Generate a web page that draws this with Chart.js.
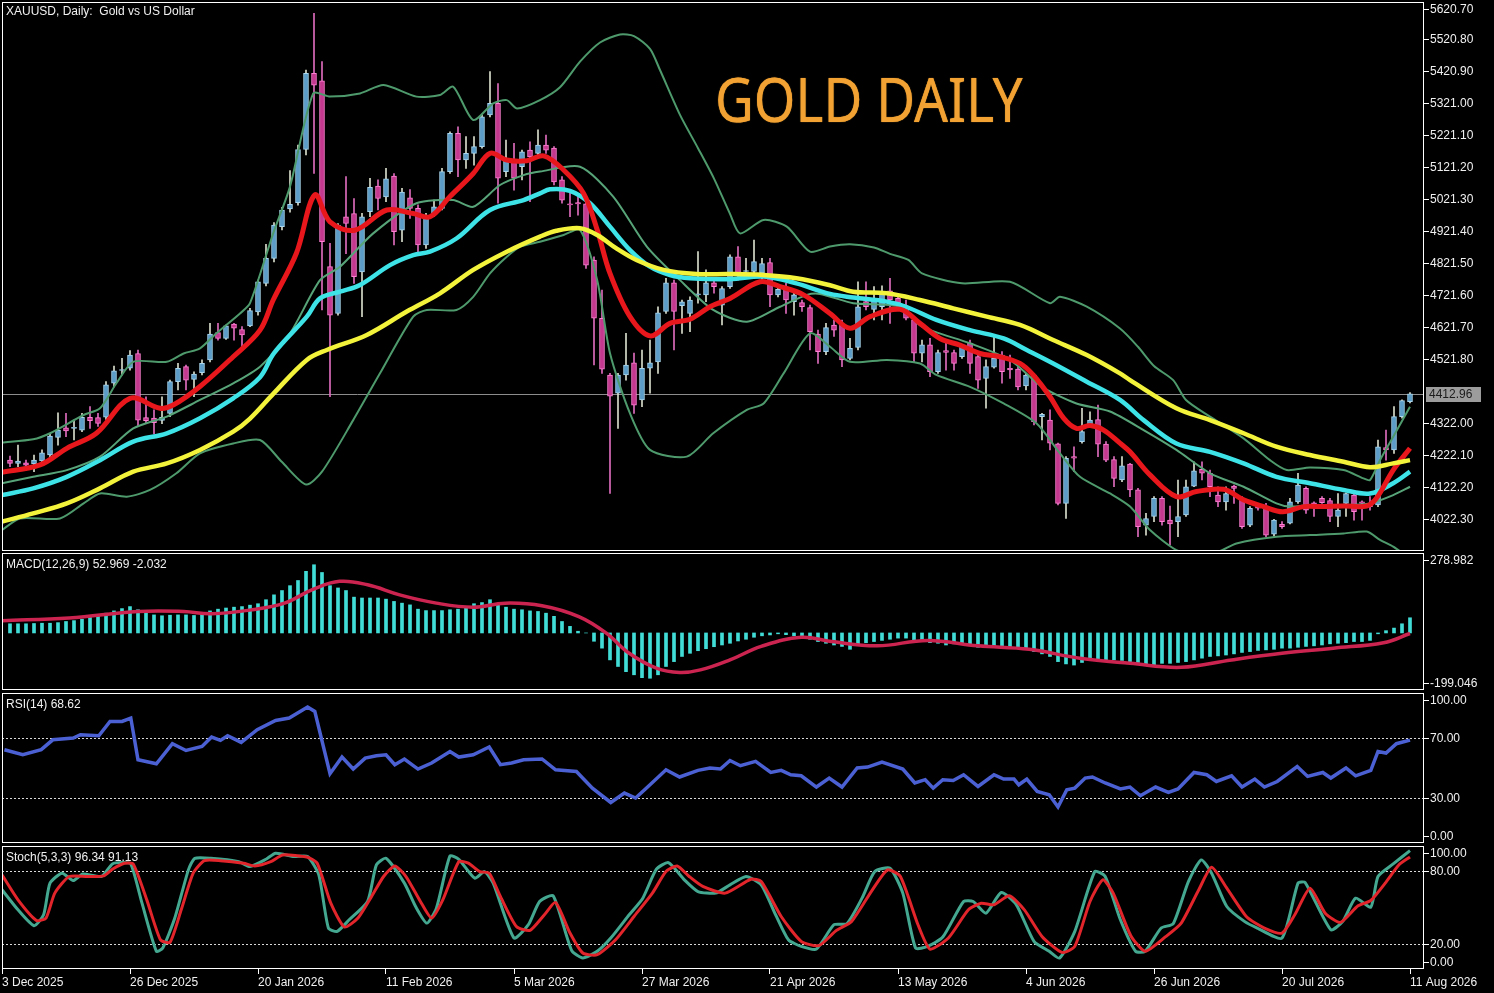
<!DOCTYPE html>
<html>
<head>
<meta charset="utf-8">
<script src="https://cdn.jsdelivr.net/npm/chart.js@4.4.1/dist/chart.umd.min.js"></script>
<style>
html, body { margin: 0; padding: 0; background: #000; overflow: hidden; }
#wrap { position: relative; width: 1494px; height: 993px; background: #000; }
canvas { position: absolute; left: 0; }
.lbl { position: absolute; left: 6px; color: #f0f0f0; font: 12px "Liberation Sans", Arial, sans-serif; white-space: pre; line-height: 14px; }
#gold { position: absolute; left: 715px; top: 67px; color: #f2a232; font: 62px/62px "Noto Sans", sans-serif; transform: scaleX(0.86); transform-origin: 0 0; white-space: pre; text-shadow: 0 0 1px #f2a232; }
</style>
</head>
<body>
<div id="wrap">
  <canvas id="cMain" width="1494" height="552" style="top:0"></canvas>
  <canvas id="cMacd" width="1494" height="140" style="top:552px"></canvas>
  <canvas id="cRsi" width="1494" height="152" style="top:692px"></canvas>
  <canvas id="cStoch" width="1494" height="149" style="top:844px"></canvas>
  <div class="lbl" style="top:4px">XAUUSD, Daily:  Gold vs US Dollar</div>
  <div class="lbl" style="top:557px">MACD(12,26,9) 52.969 -2.032</div>
  <div class="lbl" style="top:697px">RSI(14) 68.62</div>
  <div class="lbl" style="top:850px">Stoch(5,3,3) 96.34 91.13</div>
  <div id="gold">GOLD DAILY</div>
</div>
<script>
// ---- daily candles, bar 0 = 4 Dec 2025 ... bar 175 = 11 Aug 2026
const openV = [
  4206, 4196, 4198, 4194, 4204, 4222, 4277, 4307, 4305, 4300,
  4340, 4339, 4340, 4446, 4486, 4493, 4539, 4339, 4337, 4330,
  4352, 4451, 4498, 4458, 4479, 4519, 4604, 4586, 4631, 4614,
  4625, 4669, 4758, 4836, 4935, 4990, 5010, 5176, 5414, 5390,
  4810, 4664, 4966, 4976, 4794, 4982, 5062, 5028, 5093, 4924,
  5025, 4992, 4878, 4976, 4992, 5107, 5226, 5143, 5164, 5185,
  5284, 5320, 5107, 5143, 5122, 5174, 5164, 5190, 5180, 5081,
  5005, 5010, 5006, 4831, 4649, 4472, 4415, 4472, 4510, 4394,
  4493, 4513, 4670, 4760, 4688, 4664, 4722, 4722, 4760, 4690,
  4748, 4841, 4795, 4795, 4790, 4823, 4722, 4739, 4701, 4698,
  4682, 4600, 4545, 4628, 4628, 4524, 4558, 4701, 4677, 4685,
  4735, 4711, 4675, 4644, 4540, 4566, 4482, 4548, 4542, 4529,
  4571, 4529, 4461, 4496, 4534, 4493, 4490, 4438, 4472, 4342,
  4331, 4257, 4071, 4217, 4264, 4316, 4333, 4256, 4208, 4144,
  4194, 4113, 4003, 4030, 4087, 4019, 4014, 4035, 4125, 4177,
  4165, 4097, 4076, 4125, 4087, 4003, 4063, 4056, 3975, 4006,
  4009, 4076, 4118, 4073, 4087, 4080, 4030, 4071, 4097, 4076,
  4071, 4066, 4245, 4238, 4342, 4389
];
const highV = [
  4219, 4253, 4206, 4222, 4238, 4290, 4354, 4352, 4331, 4352,
  4373, 4352, 4451, 4500, 4524, 4548, 4550, 4404, 4363, 4404,
  4456, 4508, 4503, 4482, 4519, 4633, 4633, 4628, 4633, 4623,
  4680, 4768, 4880, 4948, 4995, 5110, 5190, 5424, 5601, 5450,
  4883, 4945, 5091, 5023, 4977, 5086, 5081, 5117, 5101, 5055,
  5051, 5003, 4977, 5018, 5117, 5231, 5247, 5216, 5216, 5284,
  5419, 5382, 5205, 5195, 5174, 5200, 5237, 5221, 5185, 5091,
  5039, 5039, 5018, 4841, 4737, 4477, 4477, 4602, 4540, 4550,
  4581, 4685, 4774, 4768, 4706, 4716, 4857, 4800, 4768, 4748,
  4847, 4873, 4836, 4893, 4836, 4836, 4748, 4758, 4727, 4706,
  4690, 4612, 4633, 4643, 4643, 4586, 4763, 4763, 4748, 4750,
  4774, 4727, 4706, 4654, 4581, 4586, 4550, 4571, 4550, 4566,
  4581, 4534, 4519, 4592, 4545, 4534, 4498, 4477, 4477, 4352,
  4363, 4259, 4217, 4248, 4368, 4357, 4378, 4264, 4217, 4217,
  4196, 4118, 4040, 4092, 4092, 4063, 4144, 4144, 4201, 4201,
  4175, 4123, 4123, 4128, 4092, 4061, 4066, 4071, 4021, 4014,
  4087, 4165, 4123, 4076, 4092, 4087, 4102, 4104, 4102, 4079,
  4092, 4269, 4300, 4373, 4394, 4417
];
const lowV = [
  4186, 4186, 4175, 4170, 4196, 4217, 4253, 4279, 4269, 4295,
  4305, 4311, 4333, 4435, 4472, 4487, 4311, 4321, 4288, 4320,
  4342, 4425, 4425, 4404, 4472, 4513, 4581, 4583, 4581, 4560,
  4623, 4659, 4750, 4825, 4925, 4980, 5002, 5159, 5101, 4675,
  4404, 4659, 4851, 4758, 4654, 4966, 4987, 5013, 4878, 4888,
  4961, 4857, 4867, 4966, 4987, 5101, 5091, 5117, 5127, 5180,
  5278, 5008, 5091, 5049, 5081, 5013, 5153, 5164, 5065, 5008,
  4966, 4971, 4805, 4503, 4477, 4102, 4305, 4456, 4352, 4373,
  4415, 4477, 4664, 4550, 4602, 4607, 4696, 4701, 4727, 4628,
  4742, 4768, 4774, 4779, 4770, 4685, 4716, 4664, 4659, 4670,
  4550, 4508, 4535, 4592, 4498, 4519, 4550, 4675, 4644, 4644,
  4633, 4685, 4644, 4513, 4513, 4467, 4477, 4487, 4487, 4524,
  4477, 4430, 4368, 4493, 4446, 4461, 4425, 4425, 4316, 4269,
  4238, 4066, 4024, 4170, 4259, 4311, 4217, 4201, 4123, 4139,
  4092, 3967, 3972, 4014, 4003, 3941, 3967, 4030, 4123, 4144,
  4092, 4061, 4050, 4071, 3993, 3998, 4050, 3967, 3969, 3993,
  4007, 4071, 4040, 4030, 4071, 4014, 3998, 4030, 4019, 4019,
  4050, 4061, 4206, 4227, 4337, 4385
];
const closeV = [
  4196, 4203, 4190, 4206, 4229, 4281, 4300, 4297, 4306, 4340,
  4329, 4321, 4441, 4485, 4488, 4534, 4331, 4329, 4323, 4340,
  4451, 4493, 4456, 4475, 4508, 4600, 4586, 4625, 4618, 4597,
  4673, 4763, 4836, 4940, 4987, 5005, 5176, 5414, 5377, 4888,
  4659, 4940, 4945, 4779, 4966, 5058, 5023, 5084, 4919, 5043,
  4992, 4878, 4964, 4997, 5107, 5226, 5143, 5164, 5185, 5278,
  5320, 5086, 5143, 5086, 5169, 5153, 5190, 5174, 5075, 5018,
  5003, 5006, 4815, 4649, 4490, 4406, 4472, 4503, 4378, 4493,
  4510, 4666, 4760, 4670, 4700, 4706, 4725, 4760, 4748, 4742,
  4841, 4791, 4796, 4826, 4820, 4722, 4739, 4706, 4722, 4685,
  4607, 4545, 4620, 4612, 4519, 4555, 4685, 4685, 4711, 4727,
  4706, 4696, 4649, 4540, 4566, 4482, 4542, 4542, 4508, 4562,
  4508, 4456, 4498, 4524, 4482, 4488, 4435, 4472, 4326, 4349,
  4259, 4071, 4212, 4212, 4295, 4331, 4256, 4206, 4149, 4188,
  4113, 3998, 4024, 4087, 4014, 4007, 4030, 4123, 4173, 4165,
  4123, 4076, 4102, 4118, 3998, 4056, 4056, 3972, 4019, 3998,
  4076, 4128, 4050, 4061, 4073, 4030, 4050, 4102, 4045, 4071,
  4061, 4248, 4238, 4342, 4392, 4413
];
const lastPrice = 4412.96;

// ---- moving averages and bands, [bar, price]
const redMA = [[-1,4168],[3.75,4191],[7.1,4243],[10.8,4290],[15,4399],[18.75,4368],[20.4,4378],[23.75,4436],[27.9,4529],[31.25,4612],[32.9,4706],[35.8,4852],[38.1,5034],[40,4950],[43.1,4924],[47.1,4987],[50.4,4976],[52.5,4966],[55,5029],[57.9,5101],[60,5164],[62.1,5143],[64.6,5141],[66.7,5156],[69.2,5112],[71.7,5039],[73.4,4925],[75,4789],[77.5,4654],[80,4594],[82.5,4633],[85,4646],[87.5,4685],[90,4711],[93.75,4763],[96.25,4748],[99.2,4722],[102.5,4664],[105,4618],[107.5,4654],[111.25,4677],[113.75,4633],[116.25,4586],[118.75,4565],[121.25,4539],[123.75,4529],[126.25,4508],[127.9,4472],[130,4404],[131.7,4337],[133.3,4305],[135,4314],[136.7,4300],[138.75,4259],[140,4232],[142.5,4160],[145.8,4092],[148.3,4108],[151.7,4115],[154.2,4082],[156.7,4061],[159.1,4045],[161.7,4061],[164.1,4061],[166.7,4063],[169.6,4063],[170.8,4087],[172.9,4175],[175,4243]];
const cyanMA = [[-1,4097],[2.9,4118],[7.1,4154],[11.25,4206],[15.4,4264],[19.6,4290],[23.75,4337],[27.9,4399],[31.25,4465],[33,4540],[37.1,4654],[38.75,4711],[41.25,4732],[43.75,4753],[47.5,4815],[50.4,4846],[52.5,4857],[55.8,4898],[60,4987],[64.2,5018],[66.25,5039],[67.5,5052],[70,5047],[72.5,5008],[75,4935],[77.5,4862],[80,4810],[82.5,4784],[85,4774],[90,4771],[94.2,4779],[98.3,4758],[102.5,4725],[105.4,4714],[109.6,4701],[112,4685],[115.8,4644],[120,4612],[124.2,4586],[127.1,4550],[130.4,4508],[134.6,4451],[138.75,4394],[141.7,4331],[145.8,4258],[150,4232],[154.2,4196],[158.3,4154],[162.5,4134],[166.7,4113],[170,4102],[172.9,4134],[175,4170]];
const yellowMA = [[-1,4014],[2.9,4040],[7.1,4071],[11.25,4118],[15.4,4170],[19.6,4196],[23.75,4238],[27.9,4295],[30,4336],[32.9,4413],[37.1,4519],[39.6,4550],[44.6,4597],[49.6,4670],[53.75,4727],[57.9,4800],[62.1,4857],[66.25,4904],[68.3,4922],[71.25,4930],[73.4,4909],[75.8,4867],[78.3,4831],[81.7,4800],[85.8,4787],[90,4787],[94.2,4784],[98.3,4774],[102.5,4752],[105.4,4732],[109.6,4727],[113.75,4706],[117.9,4680],[122.1,4654],[126.25,4628],[130.4,4581],[134.6,4534],[138.75,4477],[140,4456],[145.8,4368],[150,4331],[154.2,4290],[158.3,4248],[162.5,4222],[166.7,4201],[170,4184],[172.9,4196],[175,4206]];
const bbUpper = [[-1,4261],[2.9,4271],[5,4290],[9.2,4347],[11.25,4368],[13.3,4446],[15.4,4513],[19.6,4513],[21.7,4539],[23.75,4555],[25.8,4602],[28.75,4664],[30,4696],[32.9,4914],[35,5060],[37.9,5351],[40,5341],[43.75,5351],[46.7,5377],[50.8,5341],[53.75,5346],[55.4,5372],[57.9,5268],[60.4,5320],[62.1,5330],[63.4,5304],[66.25,5330],[68.75,5370],[71.25,5450],[73.75,5510],[76.25,5535],[78,5530],[80,5490],[81.25,5424],[83.75,5284],[86,5180],[88,5085],[90,4975],[91.25,4914],[94.2,4956],[97.1,4935],[100,4857],[102.5,4873],[105,4880],[108,4870],[110,4850],[112.3,4831],[114,4789],[119,4758],[125,4763],[130,4696],[131.25,4716],[134.6,4685],[138.75,4617],[141,4560],[143,4500],[145.4,4456],[147,4394],[150,4342],[154.2,4274],[157.5,4206],[159.6,4175],[162.5,4183],[166.7,4175],[169.2,4149],[170,4144],[171.25,4206],[172.9,4279],[175,4373]];
const bbMiddle = [[-1,4134],[2.9,4154],[7.1,4175],[11.25,4217],[15.4,4305],[19.6,4342],[23.75,4394],[27.9,4446],[31.25,4498],[35,4602],[38.75,4768],[41.25,4810],[45.4,4914],[50.8,5008],[55.4,5018],[57.9,4997],[61.25,5065],[64.2,5096],[66.25,5107],[71.25,5122],[75.4,5029],[79.6,4873],[83.75,4768],[87.9,4675],[92.1,4638],[96.25,4685],[99.6,4722],[101.25,4725],[105.4,4696],[111.25,4685],[114,4623],[120,4571],[125,4519],[129,4435],[133.3,4383],[137.5,4358],[141.7,4300],[145.8,4238],[150,4165],[154.2,4123],[158.3,4071],[160,4061],[162.5,4066],[166.7,4066],[170,4071],[172.9,4097],[175,4123]];
const bbLower = [[-1,3988],[1.25,4024],[6.25,4024],[9.2,4071],[11.25,4102],[14.6,4092],[17.5,4113],[20.8,4165],[23.75,4227],[27.9,4258],[31.25,4269],[34,4200],[37,4130],[39,4170],[42.9,4331],[46.25,4477],[50.4,4654],[52.1,4675],[55.8,4675],[57.9,4716],[60,4789],[62.1,4841],[63.75,4872],[66.25,4888],[69.2,4909],[71.25,4925],[73.4,4768],[75,4540],[77.5,4352],[80,4238],[84.6,4217],[87.9,4290],[92.1,4363],[94.2,4383],[96.7,4477],[100,4602],[102.5,4560],[105,4513],[109.6,4519],[113.75,4508],[115.8,4472],[120,4435],[124.2,4383],[128.3,4321],[131.25,4227],[133.75,4154],[137.5,4102],[140,4061],[142.5,3988],[145.8,3925],[148,3912],[151,3920],[153.3,3946],[158.3,3967],[162.5,3972],[166.7,3977],[169.6,3983],[171.25,3957],[172.9,3936],[175,3900]];

// ---- MACD(12,26,9)
const macdHist = [
  32, 32, 32, 33, 34, 34, 36, 40, 43, 48,
  54, 60, 69, 77, 85, 92, 81, 72, 63, 60,
  62, 63, 63, 61, 69, 77, 83, 87, 90, 92,
  97, 102, 116, 133, 148, 165, 183, 215, 238, 211,
  165, 157, 148, 125, 122, 122, 122, 118, 110, 104,
  98, 83, 78, 78, 78, 81, 83, 90, 102, 106,
  116, 98, 90, 83, 81, 77, 75, 69, 58, 40,
  23, 6, 0, -29, -53, -94, -117, -135, -146, -156,
  -158, -146, -117, -100, -82, -71, -62, -55, -48, -42,
  -36, -28, -22, -15, -10, -7, -3, -6, -10, -15,
  -22, -30, -36, -42, -47, -57, -42, -34, -30, -26,
  -22, -18, -18, -24, -26, -34, -36, -42, -38, -36,
  -42, -50, -50, -45, -47, -50, -53, -57, -65, -73,
  -82, -100, -108, -112, -103, -94, -94, -94, -94, -96,
  -100, -103, -112, -112, -106, -106, -103, -100, -94, -88,
  -82, -80, -77, -73, -68, -65, -61, -59, -57, -53,
  -53, -50, -47, -45, -42, -38, -36, -34, -30, -30,
  -26, -3, 8, 17, 32, 53
];
const macdSignal = [[-1,43],[7.4,52],[16,75],[21.7,75],[25.2,67],[30.3,81],[34.3,104],[37.8,151],[41.2,180],[44.7,168],[48.7,133],[53.3,104],[57.9,90],[61.9,104],[66.5,95],[71.1,57],[74.5,0],[77.4,-71],[80.8,-123],[83.7,-138],[86.3,-129],[90,-94],[93.9,-47],[98.9,-15],[102.7,-30],[108.4,-45],[114.7,-26],[121,-45],[127.4,-57],[133.7,-88],[140,-106],[146.4,-120],[152.7,-94],[159,-71],[165.4,-53],[171.7,-34],[175,-2]];

// ---- RSI(14)
const rsiLine = [[-0.7,62.2],[1.6,58.8],[3.9,62.2],[5.35,68.8],[7.9,70],[8.8,72.2],[11.1,71.5],[12.5,81],[14,81],[15.1,83.3],[16,55.5],[18.3,52.8],[20.3,66.2],[22,61.7],[24,64.4],[25.2,70.6],[26.3,68.4],[27.2,71.5],[28.9,67.1],[30.9,75.5],[33.2,81.7],[34.9,83.3],[37.2,90.6],[38.1,87.7],[40,46.2],[41.5,57.3],[42.9,49.3],[44.4,56.6],[45.8,58.2],[47,58.8],[48.1,52.2],[49.3,56],[51,49.3],[52.7,53.3],[55,61],[56.1,57.3],[57.9,58.8],[59.9,64],[61.3,52.2],[62.7,53.3],[64.2,55.5],[66.5,56],[68.2,48.8],[70.8,47.7],[72.8,36.6],[75.1,27],[76.8,33.3],[78.2,30],[79.7,37.3],[82,48.8],[83.7,44],[86,48.4],[87.5,50],[88.8,49.3],[90,55],[91.3,51.5],[93.2,54.4],[95.1,47],[96.4,48.4],[97.6,45.5],[98.9,44.8],[100.8,37.3],[102.4,43.3],[104,37.3],[105.9,50],[107.2,50.6],[109,54],[111.6,49.3],[113.1,40],[114.4,42.2],[115.4,36.6],[116.6,42.2],[117.9,41.7],[119.2,45.5],[121,37.7],[123,45.5],[124.2,42.6],[125.5,42.6],[126.1,38.8],[127.1,42.6],[128.4,34.4],[129.9,32.2],[131,24],[132.1,35.5],[133.1,36.6],[134.4,43.3],[135.3,44],[136.9,40],[138.8,36],[140,37.3],[141.3,31.5],[143.2,37.3],[144.8,33.7],[146,36],[148,47],[149.6,45.5],[150.8,41],[152.7,44.8],[154,37.3],[155.6,42.6],[156.8,37.3],[158.4,41],[160.9,51],[162.2,44.4],[164.1,47],[165.1,43.3],[167,50],[168.2,44.8],[170.1,48.4],[171,61],[172,60],[173.3,66.2],[175,68.6]];
const rsiLevels = [70, 30];

// ---- Stochastic(5,3,3)
const stochK = [[-1,64.4],[1,48.1],[3,35.2],[4.2,44.1],[5,69.8],[6.5,77.9],[7.9,71.9],[9.1,77.3],[11.4,75.2],[12.8,85.4],[14,86.5],[15.1,85.4],[16.5,53.5],[18.3,14.4],[19.1,17.1],[20.6,41.4],[22.3,80.6],[23.1,90],[25.1,90],[28.6,87.3],[30,83.3],[32,89.2],[33.2,94.1],[35.5,91.4],[37.2,91.4],[38.6,76.5],[39.8,33.3],[40.9,30.6],[42.4,40],[44.7,54.9],[45.8,84.6],[47,90],[49.3,69.8],[50.7,50.8],[52.1,37.3],[53.3,49.5],[55,91.9],[56.1,89.2],[58.1,73.8],[59.3,79.2],[60.4,69.8],[63,25.2],[64.8,36],[66.2,54.9],[67.9,59.5],[70.2,15.2],[71.6,9],[73.4,14.4],[75.1,25.2],[77.4,44.1],[79.1,57.6],[80.8,81.1],[82.3,86.5],[84.3,72.5],[86,63],[88.2,61.7],[90,68.4],[92,75.2],[93.9,68.4],[95.7,44.1],[97.3,23.8],[98.9,18.4],[100.8,16.2],[103,36],[104.6,36.8],[106.5,57.6],[108.1,79.2],[110,81.9],[111.6,61.7],[113.2,17],[114.7,18.4],[116.6,26],[119.2,54.9],[120.4,54.9],[122,45.4],[123.9,62.2],[125.8,52.2],[128,22.5],[129.9,14.4],[131.2,8.9],[133.1,30.6],[135.6,79.2],[136.9,75.2],[138.8,40],[140.7,14.4],[141.9,14.4],[143.9,33.3],[145.4,36.8],[147.3,71.1],[148.9,88.7],[150.2,77.9],[152.1,50.8],[154.3,38.7],[155.9,33.3],[159,25.2],[161,69.8],[161.9,70.3],[165.1,31.9],[166.6,38.7],[168.2,57.6],[170.1,50.3],[171,75.2],[172.9,85.4],[175,96.3]];
const stochD = [[-1,76.5],[1,56.2],[3.3,39.5],[4.5,41.4],[5.6,61.7],[7.4,75.2],[9.7,75.2],[11.7,75.7],[12.8,81.1],[14.3,86],[15.4,85.4],[17.1,56.2],[18.8,23.8],[20,21.7],[21.4,48.1],[22.9,77.9],[24.3,88.1],[26.3,88.1],[29.2,86],[30.6,83.8],[32.6,87.3],[34.1,92.7],[37.2,90.8],[38.4,86],[40.1,53.5],[41.8,34.1],[43.5,41.4],[45.2,59],[46.7,75.2],[48.1,83.8],[49.5,75.2],[51.3,54.9],[52.7,41.4],[54.1,56.2],[56.1,87.3],[57.3,86],[58.7,79.2],[59.9,77.9],[61.3,59],[63.3,34.6],[65,31.4],[66.8,44.1],[68.2,54.1],[70,29.2],[71.6,13],[73.4,11.6],[75.7,23.8],[78,42.7],[80.3,61.7],[82,79.2],[83.4,83.8],[84.9,75.2],[86.6,67.1],[89.4,61.7],[92.6,73],[93.9,71.1],[96.4,42.7],[98.9,22.5],[101.1,19],[103.3,31.4],[105.2,38.7],[107.8,64.4],[109.7,80.6],[111.3,75.2],[113.5,36],[115,16.2],[117.3,25.2],[119.8,48.1],[121.4,53.5],[123,52.2],[124.9,59.5],[126.8,48.1],[129,26.5],[131.5,13.5],[133.1,18.4],[135,54.9],[136.6,72.5],[137.9,61.7],[140.1,27.1],[141.9,14.4],[144.5,26.5],[146.4,37.3],[148.6,64.4],[150.2,82.7],[152.1,65.7],[154.6,42.2],[156.8,33.3],[159,29.2],[160.6,44.1],[162.5,65.7],[164.4,45.4],[166.3,37.9],[168.5,51.4],[170.1,55.7],[171.9,69.8],[173.6,84.6],[175,91.1]];
const stochLevels = [80, 20];

// ---- axis labels
const priceTicks = [5620.70, 5520.80, 5420.90, 5321.00, 5221.10, 5121.20, 5021.30, 4921.40, 4821.50, 4721.60, 4621.70, 4521.80, 4322.00, 4222.10, 4122.20, 4022.30];
const macdTicks = [278.982, -199.046];
const pctTicks = [100, 70, 30, 0];
const stochTicks = [100, 80, 20, 0];
const dateBars = [-1, 15, 31, 47, 63, 79, 95, 111, 127, 143, 159, 175];
const dateLabels = ['3 Dec 2025', '26 Dec 2025', '20 Jan 2026', '11 Feb 2026', '5 Mar 2026', '27 Mar 2026', '21 Apr 2026', '13 May 2026', '4 Jun 2026', '26 Jun 2026', '20 Jul 2026', '11 Aug 2026'];

const FONT = '"Liberation Sans", Arial, sans-serif';
Chart.defaults.font.family = FONT;
Chart.defaults.font.size = 12;
Chart.defaults.color = '#f0f0f0';

// MT4 look: frame, dotted levels, price line, right side labels
const mt4 = {
    id: 'mt4',
    beforeDatasetsDraw(chart, args, o) {
        const ctx = chart.ctx, a = chart.chartArea, ys = chart.scales.y;
        ctx.save();
        if (o.price != null) {
            const py = Math.round(ys.getPixelForValue(o.price)) + 0.5;
            ctx.strokeStyle = '#8c8c8c';
            ctx.lineWidth = 1;
            ctx.beginPath(); ctx.moveTo(a.left, py); ctx.lineTo(a.right, py); ctx.stroke();
        }
        (o.levels || []).forEach(v => {
            const py = Math.round(ys.getPixelForValue(v)) + 0.5;
            ctx.strokeStyle = '#d8d8d8';
            ctx.lineWidth = 1;
            ctx.setLineDash([2, 2]);
            ctx.beginPath(); ctx.moveTo(a.left, py); ctx.lineTo(a.right, py); ctx.stroke();
        });
        ctx.restore();
    },
    afterDraw(chart, args, o) {
        const ctx = chart.ctx, a = chart.chartArea, ys = chart.scales.y;
        ctx.save();
        ctx.strokeStyle = '#ffffff';
        ctx.lineWidth = 1;
        ctx.strokeRect(a.left + 0.5, a.top + 0.5, a.right - a.left - 1, a.bottom - a.top - 1);
        ctx.font = '12px ' + FONT;
        ctx.textBaseline = 'middle';
        ctx.textAlign = 'left';
        (o.ticks || []).forEach(v => {
            let py = ys.getPixelForValue(v);
            py = Math.min(Math.max(py, a.top + 7), a.bottom - 7);
            py = Math.round(py) + 0.5;
            ctx.strokeStyle = '#ffffff';
            ctx.beginPath(); ctx.moveTo(a.right, py); ctx.lineTo(a.right + 5, py); ctx.stroke();
            ctx.fillStyle = '#f0f0f0';
            ctx.fillText(v.toFixed(o.digits), a.right + 6, py);
        });
        if (o.price != null) {
            const py = Math.round(ys.getPixelForValue(o.price));
            ctx.fillStyle = '#9c9c9c';
            ctx.fillRect(a.right + 2, py - 7, 55, 15);
            ctx.fillStyle = '#1c1c1c';
            ctx.fillText(o.price.toFixed(2), a.right + 5, py + 0.5);
        }
        ctx.restore();
    }
};
Chart.register(mt4);

function xLinear() {
    return { type: 'linear', min: -1, max: 176.75, offset: false, display: false };
}
function yLinear(min, max) {
    return { type: 'linear', min: min, max: max, display: false };
}
function pts(arr) {
    return arr.map(p => ({ x: p[0], y: p[1] }));
}
function line(arr, color, width, order, tension) {
    return {
        type: 'line', data: pts(arr), borderColor: color, borderWidth: width,
        pointRadius: 0, tension: tension, order: order, fill: false
    };
}
function baseOptions(padding, pluginOpts, scales) {
    return {
        responsive: false, animation: false, devicePixelRatio: 1,
        layout: { padding: padding },
        plugins: { legend: { display: false }, tooltip: { enabled: false }, mt4: pluginOpts },
        scales: scales
    };
}

const isUp = i => closeV[i] >= openV[i];
const idx = openV.map((v, i) => i);

// ---- main price window
new Chart(document.getElementById('cMain'), {
    type: 'bar',
    data: {
        datasets: [
            line(yellowMA, '#f3f33c', 4.5, 1, 0.35),
            line(redMA, '#e8171c', 5, 2, 0.35),
            line(cyanMA, '#3ee3e8', 4.5, 3, 0.35),
            line(bbUpper, '#4e9a6c', 2, 5, 0.25),
            line(bbMiddle, '#58a479', 2, 5, 0.25),
            line(bbLower, '#4e9a6c', 2, 5, 0.25),
            {
                type: 'bar', order: 9, grouped: false,
                data: idx.map(i => ({ x: i, y: [openV[i], closeV[i]] })),
                barThickness: 5, minBarLength: 1, borderWidth: 1, borderSkipped: false,
                backgroundColor: c => isUp(c.dataIndex) ? '#5b9dc8' : '#c4398f',
                borderColor: c => isUp(c.dataIndex) ? '#a8d6ee' : '#ff80d2'
            },
            {
                type: 'bar', order: 10, grouped: false,
                data: idx.map(i => ({ x: i, y: [lowV[i], highV[i]] })),
                barThickness: 1, borderWidth: 0,
                backgroundColor: c => isUp(c.dataIndex) ? '#d8dccb' : '#dc6cbc'
            }
        ]
    },
    options: baseOptions({ left: 2, right: 70, top: 2, bottom: 1 },
        { ticks: priceTicks, digits: 2, price: lastPrice },
        { x: xLinear(), y: yLinear(3922.4, 5636.4) })
});

// ---- MACD window
new Chart(document.getElementById('cMacd'), {
    type: 'bar',
    data: {
        datasets: [
            line(macdSignal, '#cc2450', 3.5, 1, 0.4),
            {
                type: 'bar', order: 5, grouped: false,
                data: macdHist.map((v, i) => ({ x: i, y: v })),
                barThickness: 3, borderWidth: 0, backgroundColor: '#42dcd6'
            }
        ]
    },
    options: baseOptions({ left: 2, right: 70, top: 1, bottom: 2 },
        { ticks: macdTicks, digits: 3 },
        { x: xLinear(), y: yLinear(-199.046, 278.982) })
});

// ---- RSI window
new Chart(document.getElementById('cRsi'), {
    type: 'line',
    data: { datasets: [line(rsiLine, '#4b60d2', 3.5, 1, 0)] },
    options: baseOptions({ left: 2, right: 70, top: 1, bottom: 1 },
        { ticks: pctTicks, digits: 2, levels: rsiLevels },
        { x: xLinear(), y: yLinear(0, 100) })
});

// ---- Stochastic window with the date axis
const xDates = xLinear();
xDates.display = true;
xDates.position = 'bottom';
xDates.afterBuildTicks = s => { s.ticks = dateBars.map(v => ({ value: v })); };
xDates.afterFit = s => { s.height = 24; s.paddingLeft = 0; s.paddingRight = 0; };
xDates.ticks = {
    autoSkip: false, maxRotation: 0, minRotation: 0, align: 'start', padding: 1,
    color: '#f0f0f0', font: { size: 12, family: FONT },
    callback: (v, i) => dateLabels[i]
};
xDates.grid = { drawOnChartArea: false, color: '#ffffff', tickLength: 5, tickWidth: 1 };
xDates.border = { display: false };

new Chart(document.getElementById('cStoch'), {
    type: 'line',
    data: {
        datasets: [
            line(stochD, '#e2242b', 3, 1, 0.2),
            line(stochK, '#44a891', 3, 2, 0.2)
        ]
    },
    options: baseOptions({ left: 2, right: 70, top: 2, bottom: 0 },
        { ticks: stochTicks, digits: 2, levels: stochLevels },
        { x: xDates, y: yLinear(0, 100) })
});
</script>
</body>
</html>
